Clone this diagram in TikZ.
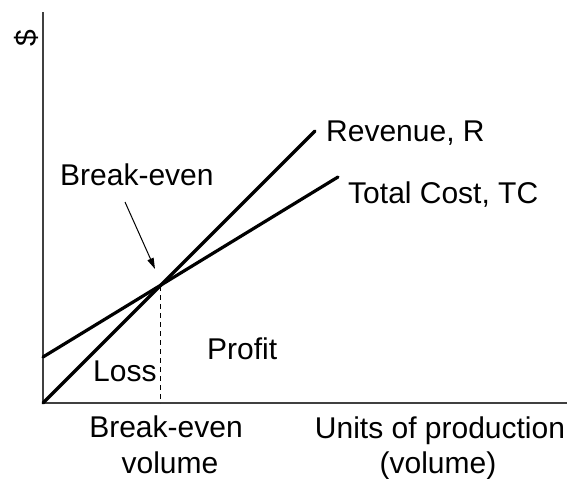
\documentclass[tikz,border=0pt]{standalone}
\usepackage{fontspec}
\setmainfont{Liberation Sans}
\usetikzlibrary{arrows.meta}
\begin{document}
\begin{tikzpicture}[x=1pt,y=-1pt,
  lbl/.style={anchor=base west,inner sep=0pt,font=\fontsize{30}{36}\selectfont},
  lblc/.style={anchor=base,inner sep=0pt,font=\fontsize{30}{36}\selectfont},
  axis/.style={line width=1.6pt,draw=black!75},
  curve/.style={line width=3.2pt,line cap=round},
  guide/.style={line width=1pt,dashed,dash pattern=on 5pt off 4pt},
  pointer/.style={line width=1pt,-{Triangle[length=11pt,width=6.5pt]}}]
\useasboundingbox (0,0) rectangle (574,479);
% axes
\coordinate (O) at (43,403);
\coordinate (ytop) at (43,12);
\coordinate (xend) at (567,403);
\draw[axis] (ytop) -- (O) -- (xend);
\node[inner sep=0pt,rotate=90,font=\fontsize{30}{36}\selectfont] (dollar) at (26,38) {\$};
% curves
\coordinate (be) at (160,286);
\coordinate (tc0) at (43,357);
\coordinate (rend) at (315,131);
\coordinate (tcend) at (338,177);
\coordinate (beb) at (160,403);
\draw[guide] (be) -- (beb);
\draw[curve] (O) -- (rend);
\draw[curve] (tc0) -- (tcend);
% labels
\node[lbl] (rev) at (326,141) {Revenue, R};
\node[lbl] (tc) at (348,203) {Total Cost, TC};
\node[lbl] (bel) at (60,185) {Break-even};
\coordinate (arrs) at (125,202);
\coordinate (arre) at (155,269);
\draw[pointer] (arrs) -- (arre);
\node[lbl] (loss) at (93,381) {Loss};
\node[lbl] (profit) at (207,359) {Profit};
\node[lblc] (bev1) at (166,437) {Break-even};
\node[lblc] (bev2) at (170,473) {volume};
\node[lblc] (units1) at (440,438) {Units of production};
\node[lblc] (units2) at (438,473) {(volume)};
\end{tikzpicture}
\end{document}
